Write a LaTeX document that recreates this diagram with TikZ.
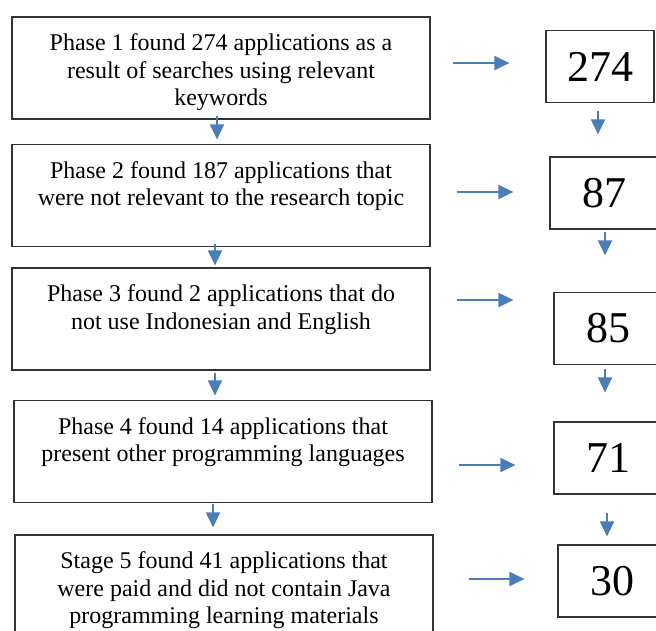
\documentclass[tikz,border=0pt]{standalone}
\usepackage{fontspec}
\setmainfont{Liberation Serif}
\usetikzlibrary{arrows.meta}
\definecolor{flowblue}{RGB}{74,126,187}
\tikzset{
  phase/.style={draw=black!80, line width=1.2pt, inner sep=0pt,
    font=\fontsize{24}{27.5}\selectfont,
    execute at begin node={\begin{minipage}[c][102pt][t]{418pt}\centering\vspace*{17pt}},
    execute at end node={\end{minipage}}},
  count/.style={draw=black!80, line width=1.2pt, inner sep=0pt,
    minimum width=108pt, minimum height=72pt, font=\fontsize{44}{44}\selectfont},
  flow/.style={flowblue, line width=2pt, -{Triangle[width=14pt,length=15pt]}}
}
\begin{document}
\begin{tikzpicture}[x=1pt,y=-1pt]
  \useasboundingbox (0,0) rectangle (656,630);
  \clip (0,0) rectangle (656,630);
  % phases
  \node[phase] (p1) at (221,68) {Phase 1 found 274 applications as a\\ result of searches using relevant\\ keywords};
  \node[phase] (p2) at (221,195.5) {Phase 2 found 187 applications that\\ were not relevant to the research topic};
  \node[phase] (p3) at (221,319) {Phase 3 found 2 applications that do\\ not use Indonesian and English};
  \node[phase] (p4) at (223,451.5) {Phase 4 found 14 applications that\\ present other programming languages};
  \node[phase] (p5) at (224,586) {Stage 5 found 41 applications that\\ were paid and did not contain Java\\ programming learning materials};
  % remaining counts
  \node[count] (c1) at (600,66.5) {274};
  \node[count] (c2) at (604,193) {87};
  \node[count] (c3) at (608,328.5) {85};
  \node[count] (c4) at (608,458) {71};
  \node[count] (c5) at (612,581) {30};
  \begin{scope}[flow]
    \draw[shorten <=22pt, shorten >=36pt] (p1.east |- 0,63) -- (c1.west |- 0,63);
    \draw[shorten <=26pt, shorten >=36pt] (p2.east |- 0,192) -- (c2.west |- 0,192);
    \draw[shorten <=26pt, shorten >=40pt] (p3.east |- 0,300) -- (c3.west |- 0,300);
    \draw[shorten <=26pt, shorten >=38pt] (p4.east |- 0,465) -- (c4.west |- 0,465);
    \draw[shorten <=35pt, shorten >=33pt] (p5.east |- 0,579) -- (c5.west |- 0,579);
    \draw[shorten <=-4pt, shorten >=4.5pt] (p1.south -| 217,0) -- (p2.north -| 217,0);
    \draw[shorten <=-3.5pt, shorten >=2pt] (p2.south -| 215,0) -- (p3.north -| 215,0);
    \draw[shorten <=2pt, shorten >=4.5pt] (p3.south -| 215,0) -- (p4.north -| 215,0);
    \draw[shorten <=0.5pt, shorten >=7pt] (p4.south -| 213,0) -- (p5.north -| 213,0);
    \draw[shorten <=7.5pt, shorten >=22pt] (c1.south -| 598,0) -- (c2.north -| 598,0);
    \draw[shorten <=2pt, shorten >=36.5pt] (c2.south -| 605,0) -- (c3.north -| 605,0);
    \draw[shorten <=3.5pt, shorten >=29pt] (c3.south -| 605,0) -- (c4.north -| 605,0);
    \draw[shorten <=18pt, shorten >=8pt] (c4.south -| 607,0) -- (c5.north -| 607,0);
  \end{scope}
\end{tikzpicture}
\end{document}
